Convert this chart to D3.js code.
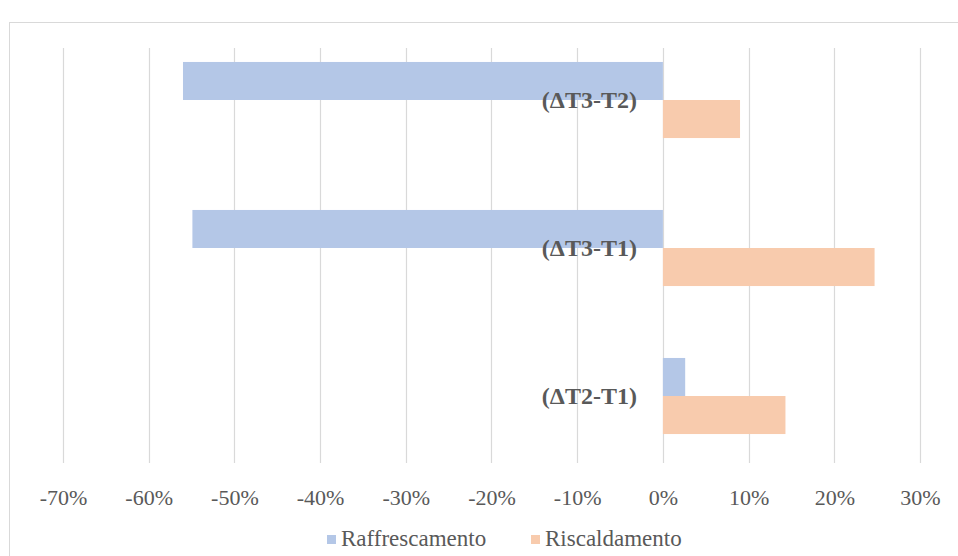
<!DOCTYPE html>
<html lang="it">
<head>
    <meta charset="UTF-8">
    <title>Raffrescamento / Riscaldamento</title>
    <script src="https://d3js.org/d3.v7.min.js"></script>
    <style>
        body { margin: 0; background: #fff; }
        text { font-family: "Liberation Serif", "Times New Roman", serif; fill: #595959; }
    </style>
</head>
<body>
    <svg width="958" height="556"></svg>
    <script>
        // dati
        var categories = ['(ΔT3-T2)', '(ΔT3-T1)', '(ΔT2-T1)'];
        var raffrescamento = [-0.56, -0.549, 0.026];
        var riscaldamento = [0.09, 0.247, 0.143];
        var tickValues = [-0.7, -0.6, -0.5, -0.4, -0.3, -0.2, -0.1, 0, 0.1, 0.2, 0.3];
        var seriesNames = ['Raffrescamento', 'Riscaldamento'];
        var colors = ['#B4C7E7', '#F8CBAD'];

        var svg = d3.select('svg');

        // cornice del grafico
        svg.append('rect')
            .attr('x', 9.5).attr('y', 22.5)
            .attr('width', 1000).attr('height', 600)
            .attr('fill', 'none').attr('stroke', '#D9D9D9');

        var x = d3.scaleLinear().domain([-0.7, 0.3]).range([63, 920]);
        var y = d3.scaleBand().domain(categories).range([26, 470]).paddingInner(0.486).paddingOuter(0.243);
        var inner = d3.scaleBand().domain([0, 1]).range([0, y.bandwidth()]);

        // griglia verticale
        svg.append('g')
            .selectAll('line').data(tickValues)
            .enter().append('line')
            .attr('x1', d => Math.round(x(d)) + 0.5)
            .attr('x2', d => Math.round(x(d)) + 0.5)
            .attr('y1', 48).attr('y2', 463)
            .attr('stroke', '#D9D9D9').attr('stroke-width', 1.2);

        // etichette asse x
        var axis = svg.append('g').attr('transform', 'translate(0,463)')
            .call(d3.axisBottom(x).tickValues(tickValues).tickSize(0).tickPadding(26)
                .tickFormat(d => Math.round(d * 100) + '%'));
        axis.select('.domain').remove();
        axis.attr('font-family', null).attr('font-size', null);
        axis.selectAll('text')
            .style('font-family', '"Liberation Serif", serif')
            .style('font-size', '22px')
            .attr('fill', '#595959');

        // barre
        var rows = categories.map((c, i) => ({ c: c, v: [raffrescamento[i], riscaldamento[i]] }));
        var groups = svg.append('g').selectAll('g').data(rows)
            .enter().append('g')
            .attr('transform', d => 'translate(0,' + y(d.c) + ')');
        groups.selectAll('rect').data(d => d.v)
            .enter().append('rect')
            .attr('x', d => x(Math.min(0, d)))
            .attr('width', d => Math.abs(x(d) - x(0)))
            .attr('y', (d, i) => inner(i))
            .attr('height', inner.bandwidth())
            .attr('fill', (d, i) => colors[i]);

        // etichette categorie
        svg.append('g').selectAll('text').data(categories)
            .enter().append('text')
            .attr('x', x(0) - 26)
            .attr('y', d => y(d) + y.bandwidth() / 2)
            .attr('dy', '0.35em')
            .attr('text-anchor', 'end')
            .style('font-size', '24px')
            .style('font-weight', 'bold')
            .text(d => d);

        // legenda
        var legendX = [327, 531];
        var legend = svg.append('g').selectAll('g').data(seriesNames)
            .enter().append('g')
            .attr('transform', (d, i) => 'translate(' + legendX[i] + ',535)');
        legend.append('rect')
            .attr('width', 9).attr('height', 9)
            .attr('fill', (d, i) => colors[i]);
        legend.append('text')
            .attr('x', 14).attr('y', 11)
            .style('font-size', '23px')
            .text(d => d);
    </script>
</body>
</html>
